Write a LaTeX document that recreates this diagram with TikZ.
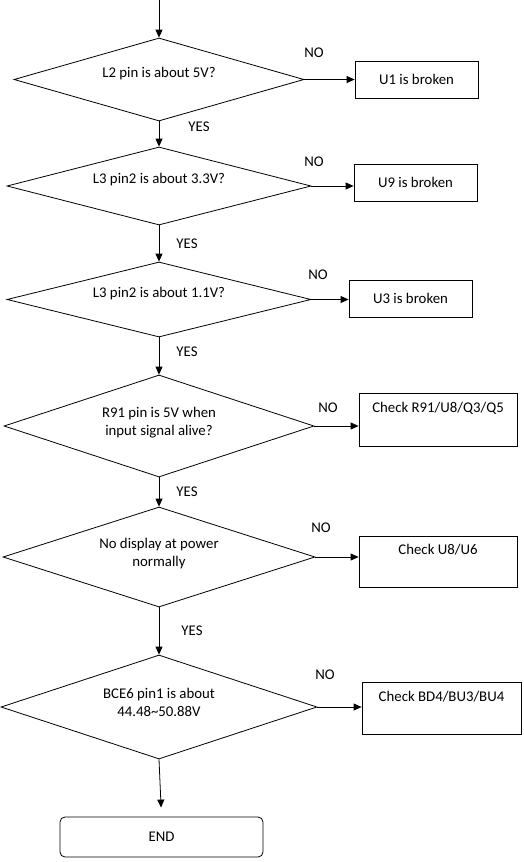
\documentclass[tikz,border=0pt]{standalone}
\usepackage{fontspec}
\setmainfont{Carlito}
\usetikzlibrary{shapes.geometric,arrows.meta}

\begin{document}
\begin{tikzpicture}[x=1pt,y=-1pt,line width=0.8pt,font=\fontsize{14.8}{18}\selectfont,ask/.style={shape=diamond,draw=black,inner sep=0pt,aspect=4,align=center},askA/.style={ask,text depth=15pt},askB/.style={ask,text depth=9pt},fault/.style={shape=rectangle,draw=black,minimum width=123pt,minimum height=37pt},check/.style={shape=rectangle,draw=black,align=center,minimum width=158pt},flow/.style={-{Triangle[length=8pt,width=7pt]}}]
\def\xq{159};
\useasboundingbox (0,0) rectangle (524,862);

\coordinate (top) at (\xq,0);

\node[askA,minimum width=290pt,minimum height=83pt] (q1) at (\xq,79.5) {L2 pin is about 5V?};
\node[askA,minimum width=304pt,minimum height=78pt] (q2) at (\xq,186) {L3 pin2 is about 3.3V?};
\node[askA,minimum width=304pt,minimum height=75pt] (q3) at (\xq,299.5) {L3 pin2 is about 1.1V?};
\node[askB,minimum width=310pt,minimum height=102pt] (q4) at (\xq,426) {R91 pin is 5V when\\input signal alive?};
\node[askB,minimum width=312pt,minimum height=100pt] (q5) at (\xq,557) {No display at power\\normally};
\node[askB,minimum width=316pt,minimum height=104pt] (q6) at (\xq,707) {BCE6 pin1 is about\\44.48\textasciitilde 50.88V};

\node[fault] (f1) at (416.5,79.5) {U1 is broken};
\node[fault] (f2) at (415.5,182.5) {U9 is broken};
\node[fault] (f3) at (410.5,298.5) {U3 is broken};
\node[check,minimum height=53pt] (c4) at (438,419.5) {Check R91/U8/Q3/Q5\\[6pt]~};
\node[check,minimum height=51pt] (c5) at (438,561.5) {Check U8/U6\\[6pt]~};
\node[check,minimum width=159pt,minimum height=52pt] (c6) at (441.5,708) {Check BD4/BU3/BU4\\[6pt]~};
\node[draw=black,rounded corners=5pt,minimum width=203pt,minimum height=40pt] (end) at (161.5,837) {END};

% NO / YES labels
\node (n1) at (314,53) {NO};
\node (n2) at (314,162) {NO};
\node (n3) at (318,275) {NO};
\node (n4) at (328,408) {NO};
\node (n5) at (321,528) {NO};
\node (n6) at (325,675) {NO};
\node (y1) at (199,127) {YES};
\node (y2) at (187,244) {YES};
\node (y3) at (187,352) {YES};
\node (y4) at (187,492) {YES};
\node (y5) at (192,631) {YES};

\draw[flow] (top) -- (q1.north);
\draw[flow] (q1.south) -- (q2.north);
\draw[flow] (q2.south) -- (q3.north);
\draw[flow] (q3.south) -- (q4.north);
\draw[flow] (q4.south) -- (q5.north);
\draw[flow] (q5.south) -- (q6.north);
\draw[flow,shorten >=9pt] (q6.south) -- (end.north);

\draw[flow] (q1.east) -- (q1.east -| f1.west);
\draw[flow] (q2.east) -- (q2.east -| f2.west);
\draw[flow] (q3.east) -- (q3.east -| f3.west);
\draw[flow] (q4.east) -- (q4.east -| c4.west);
\draw[flow] (q5.east) -- (q5.east -| c5.west);
\draw[flow] (q6.east) -- (q6.east -| c6.west);
\end{tikzpicture}
\end{document}
